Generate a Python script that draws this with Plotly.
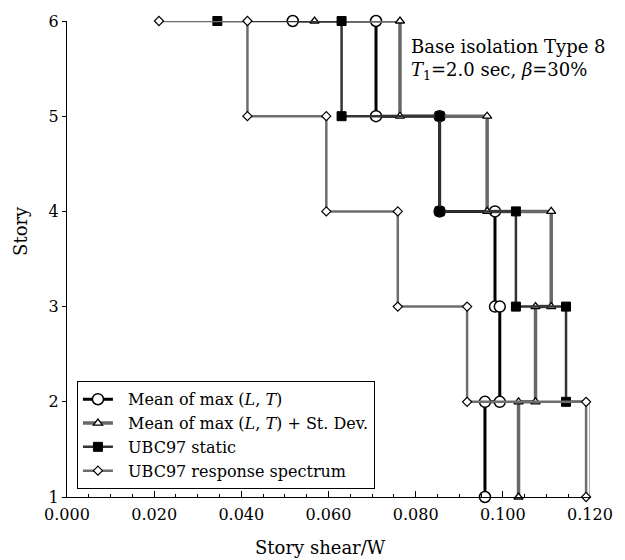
import plotly.graph_objects as go

# Story levels (top to bottom) and story shear / W values
stories = [6, 5, 4, 3, 2, 1]

mean_start = 0.0518
mean_shear = [0.0709, 0.0855, 0.0982, 0.0993, 0.0959]       # stories 6..2

sd_start = 0.0568
sd_shear = [0.0764, 0.0964, 0.1111, 0.1075, 0.1036]

static_start = 0.0345
static_shear = [0.0630, 0.0855, 0.1030, 0.1145, 0.1202]

rs_start = 0.0211
rs_shear = [0.0414, 0.0595, 0.0759, 0.0918, 0.1191]

names = ["Mean of max (<i>L</i>, <i>T</i>)",
         "Mean of max (<i>L</i>, <i>T</i>) + St. Dev.",
         "UBC97 static",
         "UBC97 response spectrum"]

x_ticks = [0.000, 0.020, 0.040, 0.060, 0.080, 0.100, 0.120]
x_ticklabels = ["0.000", "0.020", "0.040", "0.060", "0.080", "0.100", "0.120"]


def step_path(start, shear):
    xs = [start]
    ys = [stories[0]]
    for i, v in enumerate(shear):
        xs += [v, v]
        ys += [stories[i], stories[i + 1]]
    return xs, ys


FONT = "DejaVu Serif"
fig = go.Figure()

styles = [
    (mean_start, mean_shear, dict(color="black", width=3),
     dict(symbol="circle", size=11, color="white", line=dict(color="black", width=1.5))),
    (sd_start, sd_shear, dict(color="#686868", width=3.5),
     dict(symbol="triangle-up", size=8, color="white", line=dict(color="black", width=1.3))),
    (static_start, static_shear, dict(color="#333333", width=2.5),
     dict(symbol="square", size=9, color="black", line=dict(color="black", width=1))),
    (rs_start, rs_shear, dict(color="#6e6e6e", width=2.5),
     dict(symbol="diamond", size=7, color="white", line=dict(color="black", width=1.2))),
]

NB = "\u00a0\u00a0"
for name, (s, sh, ln, mk) in zip(names, styles):
    xs, ys = step_path(s, sh)
    fig.add_trace(go.Scatter(x=xs, y=ys, mode="lines+markers", name=NB + name,
                             line=ln, marker=mk, cliponaxis=False))

fig.update_layout(
    width=625, height=560,
    margin=dict(l=67, r=30, t=15, b=63),
    paper_bgcolor="white", plot_bgcolor="white",
    font=dict(family=FONT, size=16, color="black"),
    showlegend=True,
    legend=dict(x=0.019, y=0.243, xanchor="left", yanchor="top",
                bgcolor="white", bordercolor="black", borderwidth=1,
                font=dict(family=FONT, size=16), tracegroupgap=0,
                itemwidth=30),
    xaxis=dict(range=[0, 0.12], tickvals=x_ticks, ticktext=x_ticklabels,
               showgrid=False, zeroline=False, showline=True, linecolor="black",
               linewidth=1.2, ticks="inside", ticklen=6, tickcolor="black",
               ticklabelstandoff=3,
               minor=dict(dtick=0.005, ticks="inside", ticklen=3, tickcolor="black"),
               tickfont=dict(family=FONT, size=16)),
    yaxis=dict(range=[1, 6], dtick=1, showgrid=False, zeroline=False,
               showline=True, linecolor="black", linewidth=1.2,
               ticks="outside", ticklen=4, tickcolor="black",
               tickfont=dict(family=FONT, size=16)),
    annotations=[
        dict(text="Story", xref="paper", yref="paper", x=-0.089, y=0.56,
             xanchor="center", yanchor="middle",
             textangle=-90, showarrow=False, font=dict(family=FONT, size=18)),
        dict(text="Story shear/W", xref="paper", yref="paper", x=0.485, y=-0.106,
             xanchor="center", yanchor="middle",
             showarrow=False, font=dict(family=FONT, size=18)),
        dict(text="Base isolation Type 8<br><i>T</i><sub>1</sub>=2.0 sec, <i>β</i>=30%",
             xref="paper", yref="paper", x=0.653, y=0.919, xanchor="left",
             yanchor="middle", align="left", showarrow=False,
             font=dict(family=FONT, size=18)),
    ],
)

fig.write_html("out.html")
